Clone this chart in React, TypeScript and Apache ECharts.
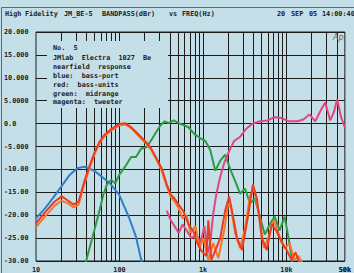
import React, { useEffect, useRef } from "react";
import * as echarts from "echarts";

// ---- data (frequency in Hz, level in dBr) ----
const blueFreq = [10, 12.8, 14.6, 19.3, 25.3, 31.5, 38.1, 50, 57.6, 75.5, 99, 130, 158, 186];
const blueDb = [-20.7, -18.5, -17.2, -14.2, -11.2, -9.7, -9.4, -10.3, -11.2, -12.9, -15.5, -20.5, -24.8, -30.5];

const red1Freq = [10, 12.8, 16.8, 20.3, 24, 28.2, 32.4, 38.1, 43.8, 50, 57.6, 65.8, 79.7, 99, 117, 138, 171, 207, 237, 280, 322, 366, 411, 457,
  511, 585, 671, 769, 835, 957, 1097, 1159, 1258, 1442, 1609, 1844, 2057, 2294, 2559, 2934, 3455, 3962, 4419, 5066, 5807, 6658, 7631, 8749, 10030, 11495, 12823, 14300];
const red1Db = [-21.8, -19.4, -17.0, -15.9, -16.8, -17.7, -17.0, -12.5, -9.2, -6.4, -4.0, -2.5, -1.2, -0.1, 0.1, -0.8, -2.5, -4.0, -5.3, -7.7, -9.9, -13.1, -15.5, -16.4,
  -17.7, -19.2, -22.0, -23.5, -25.7, -27.8, -28.9, -21.1, -29.8, -27.2, -25.0, -19.0, -15.9, -20.3, -25.0, -27.6, -20.3, -13.3, -16.4, -25.0, -27.6, -22.0, -23.5, -25.9, -27.6, -29.8, -28.1, -30.5];

const red2Freq = [10, 12.8, 16.8, 20.3, 24, 28.2, 32.4, 38.1, 43.8, 50, 57.6, 65.8, 79.7, 99, 117, 138, 171, 207, 237, 280, 322, 366, 411, 457,
  511, 570, 635, 709, 812, 906, 1011, 1159, 1328, 1523, 1795, 2001, 2172, 2423, 2778, 3185, 3650, 4071, 4668, 5351, 6132, 7030, 8280, 9490, 10880, 12470, 13920, 15520];
const red2Db = [-22.6, -20.3, -17.9, -16.8, -17.4, -18.3, -17.7, -13.1, -9.8, -6.8, -4.3, -2.8, -1.5, -0.4, -0.2, -1.0, -2.8, -4.3, -5.6, -8.0, -10.4, -13.6, -16.0, -17.0,
  -18.5, -20.7, -20.0, -23.9, -22.4, -27.2, -25.0, -29.8, -26.1, -29.4, -23.3, -17.4, -18.5, -23.9, -27.2, -22.9, -15.9, -14.2, -19.6, -27.2, -24.6, -21.1, -24.6, -27.2, -26.1, -29.8, -28.9, -30.5];

const greenFreq = [39.2, 43.7, 50, 57.6, 64.1, 71.5, 79.7, 88.9, 99, 116.8, 137.6, 157.8, 180.9, 213, 244, 280, 312, 348, 389, 446, 511, 585, 671, 791, 932, 1068, 1224, 1403, 1609, 1844, 2113, 2423, 2778, 3185, 3650, 4184, 4797, 5498, 6303, 7225, 8280, 9490, 10590, 11810];
const greenDb = [-30.5, -27.2, -23.3, -19.0, -15.5, -13.1, -12.3, -13.1, -11.2, -9.4, -7.3, -7.3, -5.5, -5.1, -3.4, -1.6, -0.3, 0.5, 0.1, 0.7, 0.1, -0.3, -0.8, -2.3, -3.2, -3.8, -5.8, -10.3, -8.1, -6.8, -9.9, -12.5, -15.3, -14.2, -17.4, -16.4, -20.3, -24.2, -22.0, -20.3, -23.3, -20.3, -25.0, -30.5];

const magentaFreq = [368, 411, 458, 511, 570, 635, 728, 835, 931, 1039, 1128, 1224, 1328, 1442, 1609, 1795, 2057, 2358, 2778, 3271, 3855, 4797, 5967, 7225, 8749, 10590, 13540, 15950, 18790, 22140, 25380, 29090, 33360, 37210, 40380, 45040, 50000];
const magentaDb = [-19.0, -21.1, -22.4, -23.9, -22.0, -23.3, -25.0, -24.2, -26.1, -22.4, -28.5, -25.9, -19.6, -15.5, -11.6, -8.6, -6.0, -3.8, -2.9, -1.2, -0.1, 0.5, 0.7, 1.4, 1.2, 0.5, 0.5, 0.9, 2.0, 0.5, 2.7, 4.6, 0.7, 2.7, 5.3, 1.4, -0.8];

const xMinorGrid = [20, 30, 40, 50, 60, 70, 80, 90, 100, 200, 300, 400, 500, 600, 700, 800, 900, 1000, 2000, 3000, 4000, 5000, 6000, 7000, 8000, 9000, 10000, 20000, 30000, 40000];
const xTickValues = [10, 100, 1000, 10000, 50000];
const xTickLabels = ["10", "100", "1k", "10k", "50k"];
const yTickValues = [20, 15, 10, 5, 0, -5, -10, -15, -20, -25, -30];
const yTickLabels = ["20.000", "15.000", "10.000", "5.0000", "0.0", "-5.000", "-10.00", "-15.00", "-20.00", "-25.00", "-30.00"];

const titleWords: [string, number][] = [
  ["High", 5], ["Fidelity", 25], ["JM_BE-5", 64], ["BANDPASS(dBr)", 102], ["vs", 169], ["FREQ(Hz)", 182],
  ["20", 277], ["SEP", 291], ["05", 309], ["14:00:40", 322],
];
const noteLines = [
  "No.  5",
  "JMlab  Electra  1027  Be",
  "nearfield  response",
  "blue:  bass-port",
  "red:  bass-units",
  "green:  midrange",
  "magenta:  tweeter",
];

const BG = "#c5dfe9";
const INK = "#1c1c1c";
const FONT = 'bold 6.8px "DejaVu Sans Mono"';

const zip = (f: number[], d: number[]) => f.map((v, i) => [v, d[i]]);
const nb = (s: string) => s.replace(/ /g, "\u00A0");

export default function App() {
  const ref = useRef<HTMLDivElement>(null);
  useEffect(() => {
    if (!ref.current) return;
    const chart = echarts.init(ref.current, null, { renderer: "svg" });
    const curve = (name: string, data: number[][], color: string, z = 5) => ({
      name,
      type: "line",
      data,
      showSymbol: false,
      symbol: "none",
      z,
      lineStyle: { color, width: 2 },
      silent: true,
    });
    const graphics: any[] = [
      { type: "rect", z: 20, shape: { x: 1.5, y: 7.5, width: 370, height: 280 }, style: { fill: "none", stroke: "#666", lineWidth: 1 } },
      { type: "rect", z: 20, shape: { x: 47, y: 41, width: 121, height: 67 }, style: { fill: BG } },
      { type: "text", z: 21, x: 333, y: 37, style: { text: "Ap", font: 'italic 8px "DejaVu Sans"', fill: "#666", verticalAlign: "middle" } },
    ];
    titleWords.forEach(([t, x]) =>
      graphics.push({ type: "text", z: 21, x, y: 14, style: { text: t, font: FONT, fill: INK, verticalAlign: "middle" } })
    );
    noteLines.forEach((t, i) =>
      graphics.push({ type: "text", z: 21, x: 53, y: 48 + i * 8.8 + (i > 0 ? 1.5 : 0), style: { text: nb(t), font: FONT, fill: INK, verticalAlign: "middle" } })
    );
    chart.setOption({
      animation: false,
      backgroundColor: BG,
      grid: { left: 36, right: 6, top: 32, bottom: 10, show: true, backgroundColor: BG, borderColor: INK, borderWidth: 1 },
      xAxis: {
        type: "log",
        logBase: 10,
        min: 10,
        max: 50000,
        axisLine: { show: false },
        axisTick: { show: false },
        splitLine: { show: false },
        axisLabel: {
          margin: 5,
          showMaxLabel: true,
          fontFamily: "DejaVu Sans Mono",
          fontWeight: "bold",
          fontSize: 6.8,
          color: INK,
          formatter: (v: number) => {
            const i = xTickValues.findIndex((t) => Math.abs(t - v) / t < 1e-6);
            return i >= 0 ? xTickLabels[i] : "";
          },
        },
      },
      yAxis: {
        type: "value",
        min: -30,
        max: 20,
        interval: 5,
        axisLine: { show: false },
        axisTick: { show: false },
        splitLine: { show: true, lineStyle: { color: INK, width: 1 } },
        axisLabel: {
          margin: 32,
          align: "left",
          fontFamily: "DejaVu Sans Mono",
          fontWeight: "bold",
          fontSize: 6.8,
          color: INK,
          formatter: (v: number) => {
            const i = yTickValues.indexOf(Math.round(v));
            return i >= 0 ? yTickLabels[i] : "";
          },
        },
      },
      graphic: graphics,
      series: [
        {
          type: "line",
          data: [[10, -100]],
          symbol: "none",
          z: 1,
          lineStyle: { opacity: 0 },
          silent: true,
          markLine: {
            silent: true,
            symbol: "none",
            animation: false,
            label: { show: false },
            lineStyle: { color: INK, width: 1, type: "solid" },
            data: xMinorGrid.map((v) => ({ xAxis: v })),
          },
        },
        curve("blue", zip(blueFreq, blueDb), "#2f7fcc"),
        curve("green", zip(greenFreq, greenDb), "#2e9a46"),
        curve("magenta", zip(magentaFreq, magentaDb), "#e2467f"),
        curve("red2", zip(red2Freq, red2Db), "#f7762b", 6),
        curve("red1", zip(red1Freq, red1Db), "#ec3c20", 7),
      ],
    });
    // the log axis does not tick its non-decade maximum; place that label through the axis scale
    const lastIdx = xTickValues.length - 1;
    const px = chart.convertToPixel({ xAxisIndex: 0 }, xTickValues[lastIdx]) as number;
    const py = chart.convertToPixel({ yAxisIndex: 0 }, -30) as number;
    if (typeof px === "number" && typeof py === "number") {
      chart.setOption({
        graphic: [
          ...graphics,
          { type: "text", z: 21, x: px, y: py + 5, style: { text: xTickLabels[lastIdx], font: FONT, fill: INK, align: "center", verticalAlign: "top" } },
        ],
      });
    }
    return () => chart.dispose();
  }, []);
  return <div ref={ref} style={{ position: "fixed", left: 0, top: 0, width: 354, height: 273, background: BG }} />;
}
